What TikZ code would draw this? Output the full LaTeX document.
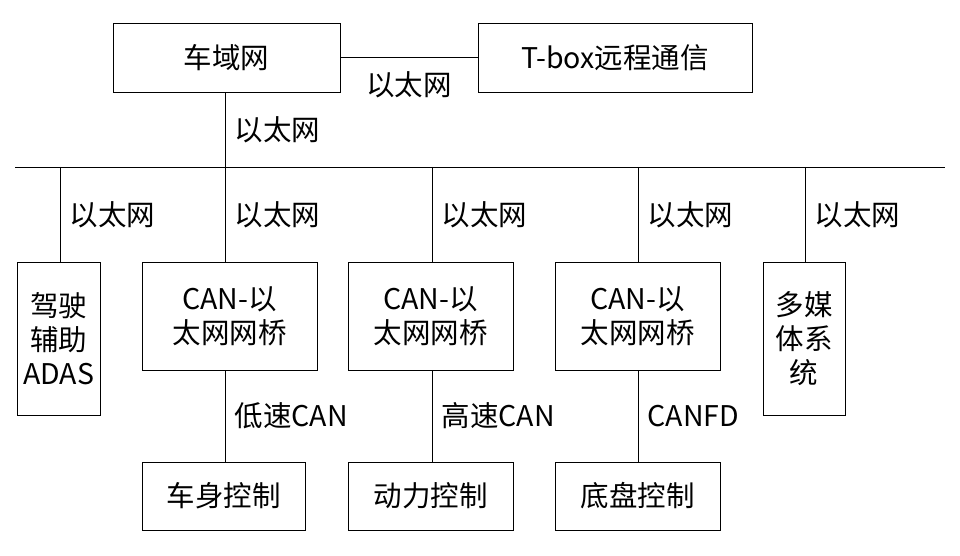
\documentclass[tikz,border=0pt]{standalone}
\usepackage{fontspec}
\setmainfont{Liberation Serif}
\newfontfamily\cjk{Noto Sans CJK SC}
\usetikzlibrary{positioning}
\begin{document}
\begin{tikzpicture}[x=1pt,y=-1pt,
        unit/.style={rectangle, draw, thick, inner sep=2pt, align=center,
            font=\fontsize{28.5}{34}\selectfont\cjk},
        lbl/.style={font=\fontsize{28.5}{34}\selectfont\cjk},
        every path/.style={thick}
    ]
    \useasboundingbox (0,0) rectangle (960,556);
    % top level
    \node[unit, minimum width=227pt, minimum height=69pt] (dom) at (226.5,57.5) {车域网};
    \node[unit, minimum width=274pt, minimum height=69pt] (tbox) at (615,57.5) {T-box远程通信};
    \coordinate (busl) at (15,167);
    \coordinate (busr) at (945,167);
    % second level
    \node[unit, minimum width=83pt, minimum height=153pt] (adas) at (58.5,338.5) {驾驶\\辅助\\ADAS};
    \node[unit, minimum width=175pt, minimum height=108pt] (br1) at (229.5,316) {CAN-以\\太网网桥};
    \node[unit, minimum width=165pt, minimum height=108pt] (br2) at (430.5,316) {CAN-以\\太网网桥};
    \node[unit, minimum width=165pt, minimum height=108pt] (br3) at (637.5,316) {CAN-以\\太网网桥};
    \node[unit, minimum width=82pt, minimum height=153pt] (media) at (804,338.5) {多媒\\体系\\统};
    % third level
    \node[unit, minimum width=163pt, minimum height=68pt] (body) at (223.5,496) {车身控制};
    \node[unit, minimum width=165pt, minimum height=68pt] (power) at (430.5,496) {动力控制};
    \node[unit, minimum width=165pt, minimum height=68pt] (chassis) at (637.5,496) {底盘控制};

    \draw (dom) -- node[lbl, below=10pt] {以太网} (tbox);
    \draw (busl) -- (busr);
    \draw (dom.south -| 225,0) -- node[lbl, right=6pt] {以太网} (225,167);
    \foreach \n/\x in {adas/60, br1/225, br2/432, br3/638, media/805}
        \draw (\x,167) -- node[lbl, right=6pt] {以太网} (\n.north -| \x,0);
    \draw (br1.south -| 225,0) -- node[lbl, right=6pt] {低速CAN} (body.north -| 225,0);
    \draw (br2.south -| 432,0) -- node[lbl, right=6pt] {高速CAN} (power.north -| 432,0);
    \draw (br3.south -| 638,0) -- node[lbl, right=6pt] {CANFD} (chassis.north -| 638,0);
\end{tikzpicture}
\end{document}
